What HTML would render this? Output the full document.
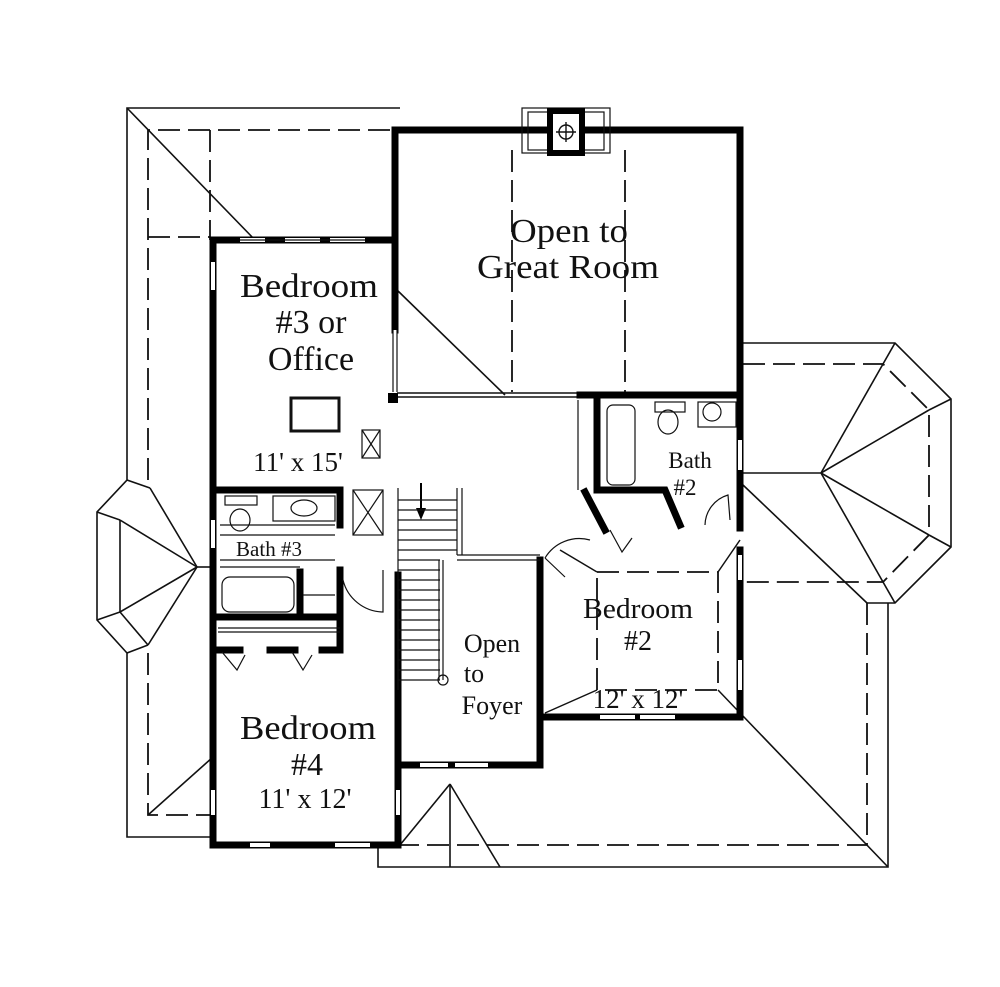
<!DOCTYPE html>
<html><head><meta charset="utf-8"><style>
html,body{margin:0;padding:0;background:#fff}
svg{display:block}
text{font-family:"Liberation Serif",serif;fill:#111}
</style></head><body>
<svg width="1000" height="987" viewBox="0 0 1000 987" xmlns="http://www.w3.org/2000/svg">
<g fill="none" stroke="#111" stroke-width="1.6">
<polyline points="400,108 127,108 127,480 97,512 97,620 127,653 127,837 213,837"/>
<line x1="127" y1="108" x2="255" y2="240"/>
<line x1="127" y1="480" x2="150" y2="488"/>
<line x1="150" y1="488" x2="197" y2="567"/>
<line x1="97" y1="512" x2="120" y2="520"/>
<line x1="120" y1="520" x2="120" y2="612"/>
<line x1="120" y1="520" x2="197" y2="567"/>
<line x1="120" y1="612" x2="197" y2="567"/>
<line x1="97" y1="620" x2="120" y2="612"/>
<line x1="120" y1="612" x2="148" y2="645"/>
<line x1="148" y1="645" x2="197" y2="567"/>
<line x1="127" y1="653" x2="148" y2="645"/>
<line x1="197" y1="567" x2="213" y2="567"/>
<line x1="148" y1="815" x2="213" y2="757"/>
<polyline points="743,343 895,343 951,399 951,547 895,603 867,603"/>
<line x1="883" y1="364" x2="895" y2="343"/>
<line x1="929" y1="410" x2="951" y2="399"/>
<line x1="929" y1="535" x2="951" y2="547"/>
<line x1="883" y1="582" x2="895" y2="603"/>
<line x1="821" y1="473" x2="883" y2="364"/>
<line x1="821" y1="473" x2="929" y2="410"/>
<line x1="821" y1="473" x2="929" y2="535"/>
<line x1="821" y1="473" x2="883" y2="582"/>
<line x1="821" y1="473" x2="743" y2="473"/>
<line x1="743" y1="485" x2="867" y2="603"/>
<polyline points="888,603 888,867 378,867 378,845"/>
<line x1="742" y1="715" x2="888" y2="867"/>
<line x1="400" y1="845" x2="450" y2="784"/>
<line x1="450" y1="784" x2="500" y2="867"/>
<line x1="450" y1="784" x2="450" y2="867"/>
<line x1="397" y1="290" x2="505" y2="395"/>
<line x1="397" y1="393" x2="578" y2="393"/>
<line x1="397" y1="397" x2="578" y2="397"/>
</g>
<g fill="none" stroke="#111" stroke-width="1.8" stroke-dasharray="22,8">
<polyline points="148,480 148,130 392,130"/>
<line x1="210" y1="130" x2="210" y2="240"/>
<line x1="148" y1="237" x2="210" y2="237"/>
<polyline points="148,653 148,815 213,815"/>
<line x1="512" y1="150" x2="512" y2="392"/>
<line x1="625" y1="150" x2="625" y2="392"/>
<polyline points="743,364 883,364 929,410 929,535 883,582 743,582"/>
<polyline points="867,603 867,845 400,845"/>
<polyline points="597,572 718,572 718,690 597,690 597,572"/>
</g>
<g fill="none" stroke="#111" stroke-width="1.5">
<line x1="597" y1="572" x2="560" y2="550"/>
<line x1="718" y1="572" x2="740" y2="540"/>
<line x1="597" y1="690" x2="545" y2="713"/>
<line x1="718" y1="690" x2="740" y2="713"/>
</g>
<g fill="none" stroke="#000" stroke-width="7" stroke-linecap="square">
<polyline points="395,330 395,130 740,130 740,390"/>
<line x1="740" y1="390" x2="740" y2="528"/>
<line x1="740" y1="550" x2="740" y2="717"/>
<polyline points="540,717 740,717"/>
<polyline points="540,560 540,765 398,765"/>
<polyline points="393,240 213,240 213,845 398,845 398,575"/>
<polyline points="213,490 340,490 340,525"/>
<polyline points="340,570 340,650"/>
<line x1="213" y1="617" x2="340" y2="617"/>
<line x1="213" y1="650" x2="240" y2="650"/>
<line x1="270" y1="650" x2="295" y2="650"/>
<line x1="322" y1="650" x2="340" y2="650"/>
<line x1="300" y1="572" x2="300" y2="617"/>
<line x1="580" y1="395" x2="737" y2="395"/>
<polyline points="597,400 597,490 665,490 680,525"/>
<line x1="585" y1="492" x2="605" y2="530"/>
</g>
<g stroke="#fff" stroke-width="4">
<line x1="240" y1="240" x2="265" y2="240"/><line x1="285" y1="240" x2="320" y2="240"/><line x1="330" y1="240" x2="365" y2="240"/>
<line x1="213" y1="262" x2="213" y2="290"/><line x1="213" y1="790" x2="213" y2="815"/><line x1="213" y1="520" x2="213" y2="548"/>
<line x1="250" y1="845" x2="270" y2="845"/><line x1="335" y1="845" x2="370" y2="845"/>
<line x1="420" y1="765" x2="448" y2="765"/><line x1="455" y1="765" x2="488" y2="765"/>
<line x1="600" y1="717" x2="635" y2="717"/><line x1="640" y1="717" x2="675" y2="717"/>
<line x1="740" y1="440" x2="740" y2="470"/><line x1="740" y1="555" x2="740" y2="580"/><line x1="740" y1="660" x2="740" y2="690"/>
<line x1="398" y1="790" x2="398" y2="815"/>
<line x1="395" y1="330" x2="395" y2="390"/>
</g>
<g fill="none" stroke="#111" stroke-width="1.2">
<line x1="393" y1="330" x2="393" y2="392"/><line x1="397" y1="330" x2="397" y2="392"/>
<line x1="240" y1="240" x2="365" y2="240"/>
<rect x="522" y="108" width="88" height="45"/>
<rect x="528" y="112" width="76" height="38"/>
</g>
<rect x="547" y="108" width="38" height="48" fill="#000"/>
<rect x="553" y="114" width="26" height="36" fill="#fff"/>
<g fill="none" stroke="#111" stroke-width="1.4">
<circle cx="566" cy="132" r="7"/>
<line x1="556" y1="132" x2="576" y2="132"/><line x1="566" y1="122" x2="566" y2="142"/>
</g>
<g fill="none" stroke="#111" stroke-width="1.2">
<line x1="398" y1="488" x2="398" y2="690"/>
<line x1="457" y1="488" x2="457" y2="555"/>
<line x1="462" y1="488" x2="462" y2="555"/>
<line x1="457" y1="555" x2="540" y2="555"/>
<line x1="457" y1="560" x2="540" y2="560"/>
<line x1="443" y1="560" x2="443" y2="680"/>
<line x1="439" y1="560" x2="439" y2="680"/>
<circle cx="443" cy="680" r="5"/>
<rect x="362" y="430" width="18" height="28"/><line x1="362" y1="430" x2="380" y2="458"/><line x1="380" y1="430" x2="362" y2="458"/>
<rect x="353" y="490" width="30" height="45"/><line x1="353" y1="490" x2="383" y2="535"/><line x1="383" y1="490" x2="353" y2="535"/>
<rect x="291" y="398" width="48" height="33" stroke-width="3"/>
<rect x="225" y="496" width="32" height="9"/>
<ellipse cx="240" cy="520" rx="10" ry="11"/>
<rect x="273" y="496" width="62" height="25"/>
<ellipse cx="304" cy="508" rx="13" ry="8"/>
<rect x="222" y="577" width="72" height="35" rx="8"/>
<line x1="303" y1="595" x2="335" y2="595"/>
<line x1="218" y1="632" x2="340" y2="632"/>
<path d="M343,580 A42,42 0 0 0 383,612 L383,570"/>
<path d="M220,525 H335 M220,535 H335 M220,560 H335 M220,567 H300"/>
<rect x="607" y="405" width="28" height="80" rx="6"/>
<rect x="655" y="402" width="30" height="10"/>
<ellipse cx="668" cy="422" rx="10" ry="12"/>
<rect x="698" y="402" width="38" height="25"/>
<circle cx="712" cy="412" r="9"/>
<line x1="578" y1="400" x2="578" y2="490"/>
<path d="M705,525 A32,32 0 0 1 728,495 L730,520"/>
<path d="M545,558 A40,40 0 0 1 590,540"/>
<line x1="545" y1="558" x2="565" y2="577"/>
<path d="M610,530 L622,552 L632,538"/>
<path d="M222,652 L237,670 L245,655 M292,652 L303,670 L312,655"/>
<line x1="218" y1="628" x2="340" y2="628"/>
</g>
<rect x="388" y="393" width="10" height="10" fill="#000"/>
<g stroke="#000" stroke-width="2"><line x1="421" y1="483" x2="421" y2="515"/></g>
<polygon points="416,508 426,508 421,520" fill="#000"/>
<g stroke="#111" stroke-width="1.2">
<line x1="398" y1="500" x2="457" y2="500"/><line x1="398" y1="510" x2="457" y2="510"/><line x1="398" y1="520" x2="457" y2="520"/><line x1="398" y1="530" x2="457" y2="530"/><line x1="398" y1="540" x2="457" y2="540"/><line x1="398" y1="550" x2="457" y2="550"/><line x1="398" y1="560" x2="440" y2="560"/><line x1="398" y1="570" x2="440" y2="570"/><line x1="398" y1="580" x2="440" y2="580"/><line x1="398" y1="590" x2="440" y2="590"/><line x1="398" y1="600" x2="440" y2="600"/><line x1="398" y1="610" x2="440" y2="610"/><line x1="398" y1="620" x2="440" y2="620"/><line x1="398" y1="630" x2="440" y2="630"/><line x1="398" y1="640" x2="440" y2="640"/><line x1="398" y1="650" x2="440" y2="650"/><line x1="398" y1="660" x2="440" y2="660"/><line x1="398" y1="670" x2="440" y2="670"/><line x1="398" y1="680" x2="440" y2="680"/>
</g>
<text x="569" y="242" font-size="34" text-anchor="middle" textLength="118" lengthAdjust="spacingAndGlyphs">Open to</text>
<text x="568" y="278" font-size="34" text-anchor="middle" textLength="182" lengthAdjust="spacingAndGlyphs">Great Room</text>
<text x="309" y="297" font-size="34" text-anchor="middle" textLength="138" lengthAdjust="spacingAndGlyphs">Bedroom</text>
<text x="311" y="333" font-size="34" text-anchor="middle">#3 or</text>
<text x="311" y="370" font-size="34" text-anchor="middle">Office</text>
<text x="298" y="471" font-size="27" text-anchor="middle">11' x 15'</text>
<text x="269" y="556" font-size="21" text-anchor="middle">Bath #3</text>
<text x="690" y="468" font-size="23" text-anchor="middle">Bath</text>
<text x="685" y="495" font-size="23" text-anchor="middle">#2</text>
<text x="638" y="618" font-size="28" text-anchor="middle" textLength="110" lengthAdjust="spacingAndGlyphs">Bedroom</text>
<text x="638" y="650" font-size="28" text-anchor="middle">#2</text>
<text x="638" y="708" font-size="27" text-anchor="middle">12' x 12'</text>
<text x="492" y="652" font-size="26" text-anchor="middle">Open</text>
<text x="474" y="682" font-size="26" text-anchor="middle">to</text>
<text x="492" y="714" font-size="26" text-anchor="middle">Foyer</text>
<text x="308" y="739" font-size="34" text-anchor="middle" textLength="136" lengthAdjust="spacingAndGlyphs">Bedroom</text>
<text x="307" y="775" font-size="32" text-anchor="middle">#4</text>
<text x="305" y="808" font-size="28" text-anchor="middle">11' x 12'</text>
</svg>
</body></html>
